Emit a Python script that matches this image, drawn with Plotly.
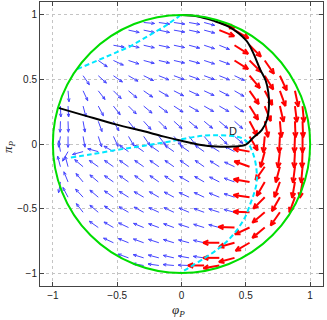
import numpy as np
import plotly.graph_objects as go

# grid columns / rows (odd multiples of 1/17)
grid_x = [-0.882, -0.765, -0.647, -0.529, -0.412, -0.294, -0.176, -0.059,
          0.059, 0.176, 0.294, 0.412, 0.529, 0.647, 0.765, 0.882]
row_y = [0.882, 0.765, 0.647, 0.529, 0.412, 0.294, 0.176, 0.059,
         -0.059, -0.176, -0.294, -0.412, -0.529, -0.647, -0.765, -0.882]
row_first = [4, 3, 2, 1, 0, 0, 0, 0, 0, 0, 0, 0, 1, 2, 3, 4]
# arrow direction (degrees), left to right in each row
row_angle = [
    [-12, -12, -12, -10, -12, -15, -22, -30],
    [-10, -12, -13, -12, -12, -15, -18, -22, -32, -45],
    [-35, -25, -18, -15, -13, -13, -15, -18, -20, -32, -45, -55],
    [-55, -42, -35, -30, -26, -22, -20, -20, -20, -22, -25, -50, -58, -65],
    [-85, -65, -52, -45, -40, -35, -30, -27, -25, -25, -27, -30, -55, -62, -70, -78],
    [-87, -75, -62, -52, -45, -40, -37, -33, -30, -30, -30, -33, -58, -68, -77, -83],
    [-88, -80, -70, -60, -52, -48, -45, -42, -40, -40, -40, -42, -62, -78, -85, -88],
    [-90, -80, -72, -65, -60, -55, -52, -50, -52, -50, -45, -40, -60, -95, -93, -92],
    [-120, -165, 165, 150, 145, 145, 145, 145, 145, 145, 148, 152, 170, -105, -97, -93],
    [105, 140, 145, 145, 145, 145, 145, 145, 145, 145, 148, 155, 160, -125, -105, -97],
    [112, 130, 140, 145, 145, 145, 145, 147, 150, 150, 153, 160, 170, -120, -110, -100],
    [118, 133, 140, 145, 148, 150, 150, 152, 155, 155, 158, 162, 172, -135, -120, -110],
    [128, 140, 145, 150, 152, 155, 155, 157, 160, 162, 165, 178, -140, -125],
    [145, 150, 155, 158, 160, 160, 162, 163, 165, 178, -155, -140],
    [155, 158, 160, 162, 163, 165, 167, 180, -165, -150],
    [160, 163, 165, 167, 170, 172, 180, -165],
]
# how many arrows at the right end of each row are red
row_red = [2, 2, 3, 3, 4, 4, 4, 4, 4, 4, 4, 4, 3, 3, 3, 2]

# outer ring of arrows just inside the circle
ring_edge = 0.941
ring_pos = [-0.294, -0.176, -0.059, 0.059, 0.176, 0.294]
ring_top_angle = [-5, -8, -8, -10, -15, -20]
ring_top_red = 1
ring_bottom_angle = [170, 172, 175, 178, 180, -170]
ring_bottom_red = 2
ring_left_angle = [-100, 105, 100, -100, -92, -88]      # bottom to top
ring_right_angle = [-100, -95, -92, -90, -88, -85]      # bottom to top, all red

# curves
black_x = [-0.957, -0.75, -0.504, -0.3, -0.143, 0.0, 0.14, 0.27, 0.40, 0.50, 0.555,
           0.625, 0.665, 0.68, 0.675, 0.655, 0.61, 0.56, 0.504, 0.374, 0.245, 0.12, 0.0]
black_y = [0.28, 0.22, 0.15, 0.10, 0.059, 0.025, -0.005, -0.02, -0.02, -0.005, 0.047,
           0.11, 0.19, 0.30, 0.40, 0.49, 0.58, 0.70, 0.80, 0.905, 0.956, 0.99, 1.0]
cyan_low_x = [-0.86, -0.7, -0.5, -0.3, -0.09, 0.17, 0.374, 0.465, 0.516, 0.555, 0.58,
              0.585, 0.565, 0.54, 0.49, 0.40, 0.30, 0.17, 0.026, -0.01]
cyan_low_y = [-0.105, -0.08, -0.045, -0.015, 0.02, 0.064, 0.064, 0.047, 0.008, -0.07,
              -0.174, -0.29, -0.38, -0.45, -0.575, -0.705, -0.80, -0.89, -0.977, -1.0]
cyan_up_x = [-0.81, -0.6, -0.4, -0.14, -0.01]
cyan_up_y = [0.58, 0.67, 0.755, 0.905, 0.995]
circle_r = 1.0

# collect arrow tails
pts = {"blue": [], "red": []}
for y, first, angs, nred in zip(row_y, row_first, row_angle, row_red):
    for k, a in enumerate(angs):
        c = "red" if k >= len(angs) - nred else "blue"
        pts[c].append((grid_x[first + k], y, a))
for k, (xp, a) in enumerate(zip(ring_pos, ring_top_angle)):
    pts["red" if k >= len(ring_pos) - ring_top_red else "blue"].append((xp, ring_edge, a))
for k, (xp, a) in enumerate(zip(ring_pos, ring_bottom_angle)):
    pts["red" if k >= len(ring_pos) - ring_bottom_red else "blue"].append((xp, -ring_edge, a))
for yp, a in zip(ring_pos, ring_left_angle):
    pts["blue"].append((-ring_edge, yp, a))
for yp, a in zip(ring_pos, ring_right_angle):
    pts["red"].append((ring_edge, yp, a))


def arrow_path(points, length, head=0.38, spread=22):
    xs, ys = [], []
    for x, y, a in points:
        t = np.radians(a)
        hx, hy = x + length * np.cos(t), y + length * np.sin(t)
        xs += [x, hx, None]
        ys += [y, hy, None]
        b1 = t + np.pi + np.radians(spread)
        b2 = t + np.pi - np.radians(spread)
        xs += [hx + head * length * np.cos(b1), hx, hx + head * length * np.cos(b2), None]
        ys += [hy + head * length * np.sin(b1), hy, hy + head * length * np.sin(b2), None]
    return xs, ys


fig = go.Figure()
bx, by = arrow_path(pts["blue"], 0.085, head=0.32, spread=22)
fig.add_trace(go.Scatter(x=bx, y=by, mode="lines", line=dict(color="#4545ff", width=1),
                         hoverinfo="skip"))
rx, ry = arrow_path(pts["red"], 0.125, head=0.35, spread=24)
fig.add_trace(go.Scatter(x=rx, y=ry, mode="lines", line=dict(color="#ff0000", width=2),
                         hoverinfo="skip"))
fig.add_trace(go.Scatter(x=cyan_up_x, y=cyan_up_y, mode="lines", hoverinfo="skip",
                         line=dict(color="#00e8ff", width=2, dash="5px,3px")))
fig.add_trace(go.Scatter(x=cyan_low_x, y=cyan_low_y, mode="lines", hoverinfo="skip",
                         line=dict(color="#00e8ff", width=2, dash="5px,3px", shape="spline")))
fig.add_trace(go.Scatter(x=black_x, y=black_y, mode="lines", hoverinfo="skip",
                         line=dict(color="black", width=2, shape="spline")))

fig.add_shape(type="circle", x0=-circle_r, y0=-circle_r, x1=circle_r, y1=circle_r,
              line=dict(color="#00dd00", width=2), layer="above")

fig.add_annotation(x=0.40, y=0.10, text="D", showarrow=False,
                   font=dict(family="Liberation Sans", size=11, color="#222"))
fig.add_annotation(xref="paper", yref="paper", x=0.49, y=0, yshift=-24, yanchor="middle",
                   text="<i>φ<sub>P</sub></i>", showarrow=False,
                   font=dict(family="Liberation Serif", size=13, color="#222"))
fig.add_annotation(xref="paper", yref="paper", x=0, y=0.5, xshift=-32, yshift=-3,
                   xanchor="center", textangle=-90,
                   text="<i>π<sub>P</sub></i>", showarrow=False,
                   font=dict(family="Liberation Serif", size=13, color="#222"))

axis_style = dict(range=[-1.1, 1.1], tickvals=[-1, -0.5, 0, 0.5, 1],
                  ticktext=["−1", "−0.5", "0", "0.5", "1"], automargin=False,
                  showgrid=True, gridcolor="#c4c4c4", griddash="dot", gridwidth=1,
                  zeroline=False, showline=True, linecolor="#444", linewidth=1,
                  mirror="ticks", ticks="inside", ticklen=4, tickcolor="#444",
                  tickfont=dict(family="Liberation Sans", size=10, color="#222"))
fig.update_xaxes(**axis_style)
fig.update_yaxes(**axis_style)
fig.update_layout(width=327, height=320, showlegend=False, hovermode=False,
                  margin=dict(l=40, r=4, t=2, b=34),
                  plot_bgcolor="white", paper_bgcolor="white")

# the page body has a default 8px margin; remove it so the figure sits at the corner
fig.write_html("out.html", config={"displayModeBar": False},
               post_script="document.body.style.margin='0';")
